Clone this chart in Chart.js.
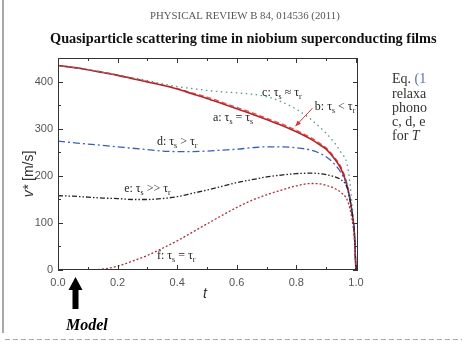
<!DOCTYPE html>
<html>
<head>
<meta charset="utf-8">
<script src="https://cdn.jsdelivr.net/npm/chart.js@4.4.1/dist/chart.umd.min.js"></script>
<style>
  html, body { margin: 0; padding: 0; background: #fff; }
  #chart { display: block; }
</style>
</head>
<body>
<canvas id="chart" width="462" height="349"></canvas>
<script>
// reduced temperature t = T/Tc
var tValues = [0, 0.05, 0.1, 0.15, 0.2, 0.25, 0.3, 0.35, 0.4, 0.45, 0.5, 0.55, 0.6, 0.65, 0.7, 0.75, 0.8, 0.85, 0.88, 0.9, 0.93, 0.95, 0.97, 0.98, 0.99, 0.995, 1.0];

// v* [m/s] for each curve
var curveA = [435, 431, 426, 420, 414, 407, 400, 393, 385, 375, 365, 354, 343, 332, 320, 308, 294, 278, 266, 257, 235, 215, 180, 150, 110, 78, 0];
var curveB = [435, 431, 426, 421, 415, 408, 401, 394, 386, 377, 368, 357, 346, 335, 323, 311, 297, 281, 269, 260, 238, 219, 184, 152, 111, 78, 0];
var curveC = [435, 431, 426, 421, 415, 409, 403, 396, 390, 386, 382, 379, 377, 374, 369, 358, 342, 320, 303, 291, 269, 250, 226, 185, 116, 80, 0];
var curveD = [274, 271, 268, 265, 262, 259, 256, 253, 252, 252, 253, 255, 257, 260, 262, 262, 260, 255, 248, 241, 224, 207, 180, 152, 110, 78, 0];
var curveE = [158, 157, 155, 153, 152, 150, 150, 152, 156, 163, 170, 178, 186, 192, 198, 202, 205, 206, 205, 203, 198, 192, 176, 150, 108, 76, 0];
var curveF = [0, 0, 0, 2, 8, 19, 31, 46, 62, 80, 98, 116, 133, 148, 160, 170, 179, 184, 183, 180, 173, 165, 150, 130, 95, 65, 0];

var xTickValues = [0, 0.2, 0.4, 0.6, 0.8, 1.0];
var yTickValues = [0, 100, 200, 300, 400];

// curve labels: text, t, v
var labelTexts = ['c: τ_s ≈ τ_r', 'b: τ_s < τ_r', 'a: τ_s = τ_s', 'd: τ_s > τ_r', 'e: τ_s >> τ_r', 'f: τ_s = τ_r'];
var labelT = [0.685, 0.862, 0.52, 0.332, 0.222, 0.332];
var labelV = [377, 347, 323, 272, 172, 30];

function pts(ys) {
  return tValues.map(function (t, i) { return { x: t, y: ys[i] }; });
}

function richText(ctx, str, x, y, size) {
  var parts = str.split(/_(\w)/);
  ctx.textBaseline = 'middle';
  ctx.textAlign = 'left';
  for (var i = 0; i < parts.length; i++) {
    if (i % 2 === 0) {
      ctx.font = size + 'px "Liberation Serif"';
      ctx.fillText(parts[i], x, y);
      x += ctx.measureText(parts[i]).width;
    } else {
      ctx.font = Math.round(size * 0.65) + 'px "Liberation Serif"';
      ctx.fillText(parts[i], x, y + 4);
      x += ctx.measureText(parts[i]).width;
    }
  }
}

function fitText(ctx, txt, x, y, width, style) {
  ctx.font = style + ' 100px "Liberation Serif"';
  var w = ctx.measureText(txt).width;
  ctx.font = style + ' ' + (100 * width / w).toFixed(2) + 'px "Liberation Serif"';
  ctx.fillText(txt, x, y);
}

var decorPlugin = {
  id: 'decor',
  afterDraw: function (chart) {
    var ctx = chart.ctx;
    var xs = chart.scales.x, ys = chart.scales.y;
    var a = chart.chartArea;
    ctx.save();

    // page edge and separator
    ctx.strokeStyle = '#a8a8a8';
    ctx.lineWidth = 2;
    ctx.beginPath(); ctx.moveTo(3, 0); ctx.lineTo(3, 333); ctx.stroke();
    ctx.lineWidth = 1;
    ctx.setLineDash([5, 3]);
    ctx.beginPath(); ctx.moveTo(5, 339.5); ctx.lineTo(462, 339.5); ctx.stroke();
    ctx.setLineDash([]);

    // header and title
    ctx.fillStyle = '#555';
    ctx.textBaseline = 'alphabetic';
    ctx.textAlign = 'left';
    fitText(ctx, 'PHYSICAL REVIEW B 84, 014536 (2011)', 150, 19, 190, '');
    ctx.fillStyle = '#111';
    fitText(ctx, 'Quasiparticle scattering time in niobium superconducting films', 50, 43, 387, 'bold');

    // frame
    ctx.strokeStyle = '#333';
    ctx.lineWidth = 1;
    ctx.strokeRect(a.left + 0.5, a.top + 0.5, a.right - a.left - 1, a.bottom - a.top - 1);

    // inward ticks on all sides
    ctx.beginPath();
    for (var i = 0; i <= 10; i++) {
      var px = Math.round(xs.getPixelForValue(i / 10)) + 0.5;
      var len = i % 2 === 0 ? 5 : 3;
      ctx.moveTo(px, a.bottom); ctx.lineTo(px, a.bottom - len);
      ctx.moveTo(px, a.top); ctx.lineTo(px, a.top + len);
    }
    for (var v = 0; v <= 450; v += 50) {
      var py = Math.round(ys.getPixelForValue(v)) + 0.5;
      var l2 = v % 100 === 0 ? 5 : 3;
      ctx.moveTo(a.left, py); ctx.lineTo(a.left + l2, py);
      ctx.moveTo(a.right, py); ctx.lineTo(a.right - l2, py);
    }
    ctx.stroke();

    // curve labels
    ctx.fillStyle = '#222';
    for (var k = 0; k < labelTexts.length; k++) {
      richText(ctx, labelTexts[k], xs.getPixelForValue(labelT[k]), ys.getPixelForValue(labelV[k]), 12);
    }

    // arrow to curve b
    var ax0 = xs.getPixelForValue(0.854), ay0 = ys.getPixelForValue(344);
    var ax1 = xs.getPixelForValue(0.797), ay1 = ys.getPixelForValue(306);
    ctx.strokeStyle = '#e03030';
    ctx.fillStyle = '#e03030';
    ctx.beginPath(); ctx.moveTo(ax0, ay0); ctx.lineTo(ax1, ay1); ctx.stroke();
    var ang = Math.atan2(ay1 - ay0, ax1 - ax0);
    ctx.beginPath();
    ctx.moveTo(ax1, ay1);
    ctx.lineTo(ax1 - 6 * Math.cos(ang - 0.4), ay1 - 6 * Math.sin(ang - 0.4));
    ctx.lineTo(ax1 - 6 * Math.cos(ang + 0.4), ay1 - 6 * Math.sin(ang + 0.4));
    ctx.closePath(); ctx.fill();

    // axis titles
    ctx.fillStyle = '#333';
    ctx.save();
    ctx.translate(33, 174);
    ctx.rotate(-Math.PI / 2);
    ctx.textBaseline = 'alphabetic';
    ctx.textAlign = 'left';
    ctx.font = 'italic 14px "Liberation Sans"';
    var w1 = ctx.measureText('v*').width;
    ctx.font = '14px "Liberation Sans"';
    var w2 = ctx.measureText(' [m/s]').width;
    ctx.font = 'italic 14px "Liberation Sans"';
    ctx.fillText('v*', -(w1 + w2) / 2, 0);
    ctx.font = '14px "Liberation Sans"';
    ctx.fillText(' [m/s]', -(w1 + w2) / 2 + w1, 0);
    ctx.restore();
    ctx.font = 'italic 14px "Liberation Sans"';
    ctx.textAlign = 'center';
    ctx.fillText('t', 205, 294);

    // Model arrow
    ctx.fillStyle = '#000';
    ctx.beginPath();
    ctx.moveTo(75.5, 277);
    ctx.lineTo(82.5, 290);
    ctx.lineTo(78.5, 290);
    ctx.lineTo(78.5, 309);
    ctx.lineTo(72.5, 309);
    ctx.lineTo(72.5, 290);
    ctx.lineTo(68.5, 290);
    ctx.closePath(); ctx.fill();
    ctx.textAlign = 'left';
    ctx.textBaseline = 'alphabetic';
    ctx.font = 'bold italic 16px "Liberation Serif"';
    ctx.fillText('Model', 66, 330);

    // side text
    ctx.font = '14px "Liberation Serif"';
    ctx.fillStyle = '#333';
    ctx.fillText('Eq. ', 392, 83);
    var we = ctx.measureText('Eq. ').width;
    ctx.fillStyle = '#5a6fb0';
    ctx.fillText('(1', 392 + we, 83);
    ctx.fillStyle = '#333';
    ctx.fillText('relaxa', 392, 98);
    ctx.fillText('phono', 392, 112);
    ctx.fillText('c, d, e', 392, 126);
    ctx.fillText('for ', 392, 140);
    var wf = ctx.measureText('for ').width;
    ctx.font = 'italic 14px "Liberation Serif"';
    ctx.fillText('T', 392 + wf, 140);

    ctx.restore();
  }
};

function line(ys, color, dash, width) {
  return {
    data: pts(ys),
    borderColor: color,
    borderWidth: width || 1.3,
    borderDash: dash,
    pointRadius: 0,
    showLine: true,
    fill: false,
    cubicInterpolationMode: 'monotone'
  };
}

var ctx = document.getElementById('chart').getContext('2d');
var myChart = new Chart(ctx, {
  type: 'scatter',
  data: {
    datasets: [
      line(curveF, '#a8323e', [2, 2]),
      line(curveE, '#222222', [5, 2, 1.5, 2, 1.5, 2]),
      line(curveD, '#3a5fb0', [7, 3, 2, 3]),
      line(curveC, '#4f9a86', [1.5, 3.5]),
      line(curveA, '#b3262c', [], 1.6),
      line(curveB, '#ee5050', [5, 3])
    ]
  },
  options: {
    responsive: false,
    animation: false,
    layout: { padding: { left: 22, top: 58, right: 104, bottom: 53 } },
    plugins: { legend: { display: false }, tooltip: { enabled: false } },
    scales: {
      x: {
        type: 'linear',
        min: 0,
        max: 1.007,
        grid: { display: false, drawTicks: false },
        border: { display: false },
        afterBuildTicks: function (s) { s.ticks = xTickValues.map(function (v) { return { value: v }; }); },
        afterFit: function (s) { s.height = 26; },
        ticks: {
          padding: 6,
          color: '#555',
          font: { family: 'Liberation Sans', size: 11 },
          callback: function (v) { return v.toFixed(1); }
        }
      },
      y: {
        min: 0,
        max: 451,
        grid: { display: false, drawTicks: false },
        border: { display: false },
        afterBuildTicks: function (s) { s.ticks = yTickValues.map(function (v) { return { value: v }; }); },
        afterFit: function (s) { s.width = 36; },
        ticks: {
          padding: 5,
          color: '#555',
          font: { family: 'Liberation Sans', size: 11 }
        }
      }
    }
  },
  plugins: [decorPlugin]
});
</script>
</body>
</html>
